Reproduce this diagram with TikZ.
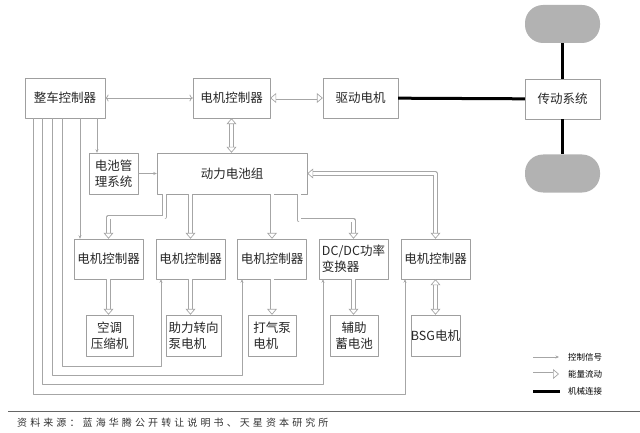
\documentclass[tikz,border=0pt]{standalone}
\usepackage{fontspec}
\setmainfont{Noto Sans CJK SC}
\newfontfamily\srcfont[LetterSpace=31]{Noto Sans CJK SC}
\usetikzlibrary{arrows.meta}
\tikzset{
  blk/.style={draw=gray!75, text=black!85, inner sep=0pt, align=center},
  ctl/.style={blk, minimum width=69, minimum height=40},
  load/.style={blk, minimum height=41},
  wheel/.style={fill=gray!60, rounded corners=18pt, minimum width=75, minimum height=38},
  hollow/.tip={Triangle[open, width=10pt, length=6pt, line width=0.7pt]},
  ctrl/.style={draw=gray!70, line width=0.8pt, -{Stealth[length=3.5pt,width=3pt]}},
  energy/.style={draw=gray!70, double=white, double distance=3pt, line width=0.75pt},
  mech/.style={line width=3pt, black},
}
\begin{document}
\begin{tikzpicture}[x=1pt,y=-1pt,line join=round,font=\fontsize{12.5}{16}\selectfont]
	\useasboundingbox (0,0) rectangle (640,433);
	% top row and drive train
	\node[blk, minimum width=80, minimum height=40] (vcu) at (65,98) {整车控制器};
	\node[blk, minimum width=77, minimum height=40] (mcu) at (231.5,98) {电机控制器};
	\node[blk, minimum width=75, minimum height=40] (drv) at (360.5,98) {驱动电机};
	\node[blk, minimum width=75, minimum height=40] (trs) at (562.5,99) {传动系统};
	\node[wheel] (whA) at (562.5,24) {};
	\node[wheel] (whB) at (562.5,173.5) {};
	\node[blk, minimum width=49, minimum height=41] (bms) at (113.5,173.5) {电池管\\理系统};
	\node[blk, minimum width=150, minimum height=41] (bat) at (232,173.5) {动力电池组};
	% controllers
	\node[ctl] (mcuA) at (108.5,259) {电机控制器};
	\node[ctl] (mcuB) at (190.5,259) {电机控制器};
	\node[ctl] (mcuC) at (272,259) {电机控制器};
	\node[ctl, align=left] (dcdc) at (353.5,259) {DC/DC功率\\变换器};
	\node[ctl] (mcuD) at (435.5,259) {电机控制器};
	% loads
	\node[load, minimum width=47] (ac) at (109.5,335.5) {空调\\压缩机};
	\node[load, minimum width=55, align=left] (eps) at (193.5,335.5) {助力转向\\泵电机};
	\node[load, minimum width=48, align=left] (pump) at (272,335.5) {打气泵\\电机};
	\node[load, minimum width=48] (aux) at (354,335.5) {辅助\\蓄电池};
	\node[load, minimum width=47] (bsg) at (435.5,335.5) {BSG电机};
	% mechanical
	\draw[mech] (drv) -- (trs);
	\draw[mech] (whA) -- (trs);
	\draw[mech] (trs) -- (whB);
	% energy flow
	\draw[energy, hollow-hollow] (mcu) -- (drv);
	\draw[energy, hollow-hollow] (mcu.south) -- (mcu.south |- bat.north);
	\coordinate (eA) at ([xshift=-67.5pt]bat.south);
	\coordinate (eD) at ([xshift=67pt]bat.south);
	\draw[energy, -hollow] (eA) -- (eA |- 0,217) -| (mcuA.north);
	\draw[energy, -hollow] (bat.south -| mcuB.north) -- (mcuB.north);
	\draw[energy, -hollow] (bat.south -| mcuC.north) -- (mcuC.north);
	\draw[energy, -hollow] (eD) -- (eD |- 0,220) -| (dcdc.north);
	\draw[energy, hollow-hollow] (bat.east) -| (mcuD.north);
	\draw[energy, -hollow] (mcuA.south) -- (mcuA.south |- ac.north);
	\draw[energy, -hollow] (mcuB.south) -- (mcuB.south |- eps.north);
	\draw[energy, -hollow] (mcuC.south) -- (mcuC.south |- pump.north);
	\draw[energy, -hollow] (dcdc.south) -- (dcdc.south |- aux.north);
	\draw[energy, hollow-hollow] (mcuD.south) -- (mcuD.south |- bsg.north);
	% control signals
	\draw[ctrl, <->] (vcu) -- (mcu);
	\draw[ctrl] (bms) -- (bat);
	\coordinate (c1) at ([xshift=-32pt]vcu.south);
	\coordinate (c2) at ([xshift=-23pt]vcu.south);
	\coordinate (c3) at ([xshift=-13pt]vcu.south);
	\coordinate (c4) at ([xshift=-3pt]vcu.south);
	\coordinate (c5) at ([xshift=15pt]vcu.south);
	\coordinate (c6) at ([xshift=32pt]vcu.south);
	\draw[ctrl] (c6) -- (c6 |- bms.north);
	\draw[ctrl] (c5) -- (c5 |- mcuA.north);
	\draw[ctrl] (c4) -- (c4 |- 0,366) -| ([xshift=-29.5pt]mcuB.south);
	\draw[ctrl] (c3) -- (c3 |- 0,375) -| ([xshift=-30pt]mcuC.south);
	\draw[ctrl] (c2) -- (c2 |- 0,384) -| ([xshift=-30.5pt]dcdc.south);
	\draw[ctrl] (c1) -- (c1 |- 0,394) -| ([xshift=-30.5pt]mcuD.south);
	% legend
	\begin{scope}[font=\fontsize{8.5}{10}\selectfont]
		\coordinate (lgA) at (533,357); \coordinate (lgB) at (559,357);
		\coordinate (lgC) at (533,374); \coordinate (lgD) at (559,374);
		\coordinate (lgE) at (533,391); \coordinate (lgF) at (560,391);
		\draw[ctrl] (lgA) -- (lgB);
		\draw[energy, -hollow] (lgC) -- (lgD);
		\draw[mech] (lgE) -- (lgF);
		\node[anchor=west, inner sep=0pt] (lgt1) at (568,357) {控制信号};
		\node[anchor=west, inner sep=0pt] (lgt2) at (568,374) {能量流动};
		\node[anchor=west, inner sep=0pt] (lgt3) at (568,391) {机械连接};
	\end{scope}
	% source
	\coordinate (rlA) at (8,411); \coordinate (rlB) at (640,411);
	\draw[gray!80!black, line width=1pt] (rlA) -- (rlB);
	\node[anchor=west, inner sep=0pt, text=black!80] (src) at (17,423) {\srcfont\fontsize{10}{12}\selectfont 资料来源：蓝海华腾公开转让说明书、天星资本研究所};
\end{tikzpicture}
\end{document}
